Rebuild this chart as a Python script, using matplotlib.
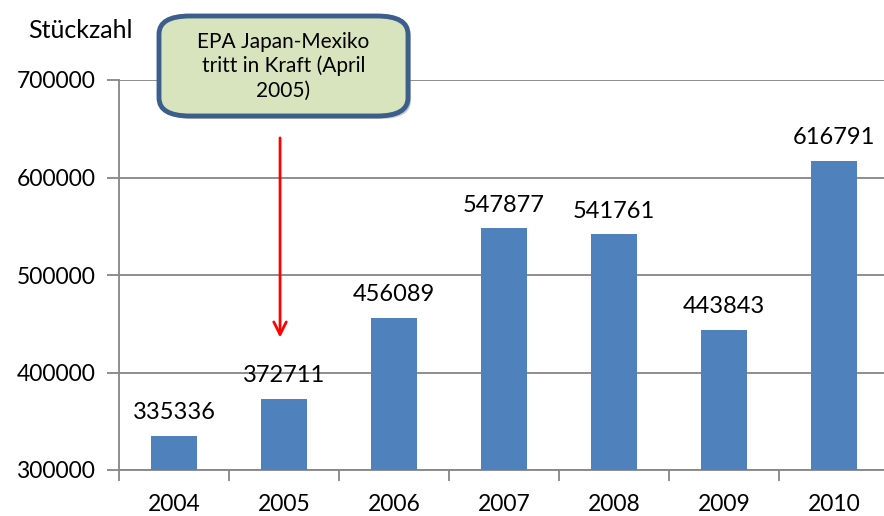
import matplotlib
matplotlib.use("Agg")
import matplotlib.pyplot as plt
from matplotlib.patches import FancyBboxPatch

years = ["2004", "2005", "2006", "2007", "2008", "2009", "2010"]
values = [335336, 372711, 456089, 547877, 541761, 443843, 616791]
yticks = [300000, 400000, 500000, 600000, 700000]

plt.rcParams['font.family'] = ['Lato', 'DejaVu Sans']

W, H = 884, 516
fig = plt.figure(figsize=(W / 100, H / 100), dpi=100)
ax = fig.add_axes([119 / W, 1 - 470 / H, (889 - 119) / W, 390 / H])

x = list(range(len(years)))
ax.bar(x, values, width=0.41, color="#4F81BD", zorder=3)
for xi, v in zip(x, values):
    ax.text(xi, v + 13000, str(v), ha="center", va="bottom", fontsize=17, color="black", zorder=4)

ax.set_ylim(300000, 700000)
ax.set_xlim(-0.5, 6.5)
ax.set_yticks(yticks)
ax.set_yticklabels([str(t) for t in yticks])
ax.set_xticks(x)
ax.set_xticklabels(years)
ax.set_xticks([i - 0.5 for i in range(len(years) + 1)], minor=True)
ax.tick_params(axis="x", which="major", length=0, labelsize=16.5, pad=17)
ax.tick_params(axis="x", which="minor", length=8, width=1.3, color="#868686", direction="out")
ax.tick_params(axis="y", length=9, width=1.3, color="#868686", labelsize=16.5, pad=8)
ax.grid(axis="y", color="#868686", linewidth=1.3, zorder=0)
for s in ["top", "right"]:
    ax.spines[s].set_visible(False)
for s in ["left", "bottom"]:
    ax.spines[s].set_color("#868686")
    ax.spines[s].set_linewidth(1.3)

fig.text(28 / W, 1 - 30 / H, "Stückzahl", fontsize=18, ha="left", va="center")

# Annotation box
bx0, by0, bx1, by1 = 159, 16, 408, 116
shadow = FancyBboxPatch(((bx0 + 3) / W, 1 - (by1 + 3) / H), (bx1 - bx0) / W, (by1 - by0) / H,
                        boxstyle="round,pad=0,rounding_size=0.035", transform=fig.transFigure,
                        facecolor="#9a9a9a", edgecolor="none", alpha=0.5, zorder=9)
box = FancyBboxPatch((bx0 / W, 1 - by1 / H), (bx1 - bx0) / W, (by1 - by0) / H,
                     boxstyle="round,pad=0,rounding_size=0.035", transform=fig.transFigure,
                     facecolor="#D7E4BD", edgecolor="#3B5E8C", linewidth=3.5, zorder=10)
fig.patches.extend([shadow, box])
fig.text((bx0 + bx1) / 2 / W, 1 - 66 / H, "EPA Japan-Mexiko\ntritt in Kraft (April\n2005)",
         ha="center", va="center", fontsize=15, linespacing=1.25, zorder=11)

# Red arrow
ax.annotate("", xy=(0.964, 433000), xytext=(0.964, 643500),
            arrowprops=dict(arrowstyle="->,head_length=0.9,head_width=0.45", color="red", lw=2),
            zorder=5)

fig.savefig("out.png", dpi=100)
